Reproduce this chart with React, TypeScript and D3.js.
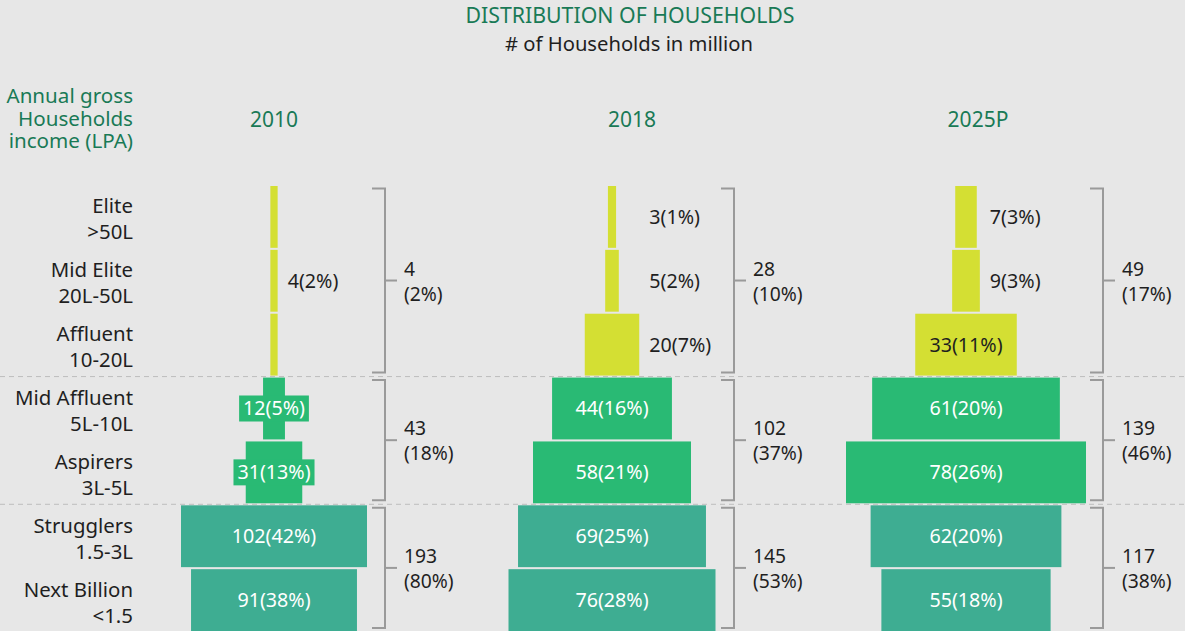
import React from "react";
import * as d3 from "d3";

// ---------- DATA ----------
const categories = ["Elite", "Mid Elite", "Affluent", "Mid Affluent", "Aspirers", "Strugglers", "Next Billion"];
const incomeRanges = [">50L", "20L-50L", "10-20L", "5L-10L", "3L-5L", "1.5-3L", "<1.5"];
const segmentOf = [0, 0, 0, 1, 1, 2, 2]; // segment index for each category
const years = ["2010", "2018", "2025P"];

// 2010: Elite, Mid Elite and Affluent are reported as one combined value
const households2010 = [4, 12, 31, 102, 91];
const share2010 = [2, 5, 13, 42, 38];
const rowSpan2010 = [3, 1, 1, 1, 1];

const households2018 = [3, 5, 20, 44, 58, 69, 76];
const share2018 = [1, 2, 7, 16, 21, 25, 28];
const rowSpan2018 = [1, 1, 1, 1, 1, 1, 1];

const households2025 = [7, 9, 33, 61, 78, 62, 55];
const share2025 = [3, 3, 11, 20, 26, 20, 18];
const rowSpan2025 = [1, 1, 1, 1, 1, 1, 1];

const segmentTotals2010 = [4, 43, 193];
const segmentShare2010 = [2, 18, 80];
const segmentTotals2018 = [28, 102, 145];
const segmentShare2018 = [10, 37, 53];
const segmentTotals2025 = [49, 139, 117];
const segmentShare2025 = [17, 46, 38];

const headerLines = ["Annual gross", "Households", "income (LPA)"];

// ---------- LAYOUT / STYLE ----------
const W = 1185;
const H = 631;
const FONT = "'Noto Sans', 'Open Sans', sans-serif";
const BG = "#e7e7e7";
const DARK_GREEN = "#197a56";
const TEXT = "#1f1f1f";
const SEG_COLORS = ["#d4df33", "#29ba74", "#3ead92"];
const LABEL_COLORS = ["#1f1f1f", "#ffffff", "#ffffff"];
const BRACKET = "#9a9a9a";
const LABEL_SIZE = 19.7;

const columns = [
  { values: households2010, shares: share2010, spans: rowSpan2010, totals: segmentTotals2010, tShares: segmentShare2010, center: 274, header: 274, bracket: 385, maxW: 186, maxV: 102 },
  { values: households2018, shares: share2018, spans: rowSpan2018, totals: segmentTotals2018, tShares: segmentShare2018, center: 612, header: 632, bracket: 734, maxW: 207, maxV: 76 },
  { values: households2025, shares: share2025, spans: rowSpan2025, totals: segmentTotals2025, tShares: segmentShare2025, center: 966, header: 978, bracket: 1103, maxW: 240, maxV: 78 },
];

const y = d3.scaleBand<string>().domain(categories).range([186, 631]).paddingInner(0.032).paddingOuter(0);

function measure(text: string, size: number) {
  // rough width estimate for Noto Sans digits/punctuation
  let w = 0;
  for (const ch of text) {
    if (/[0-9]/.test(ch)) w += 0.572;
    else if (ch === "%") w += 0.82;
    else if (ch === "(" || ch === ")") w += 0.3;
    else w += 0.55;
  }
  return w * size;
}

export default function App() {
  const rowH = y.bandwidth();
  const step = y.step();
  const gap = step - rowH;

  // segment extents
  const segRows = [0, 1, 2].map((s) => categories.filter((_, i) => segmentOf[i] === s));
  const segTop = segRows.map((r) => y(r[0])!);
  const segBottom = segRows.map((r) => y(r[r.length - 1])! + rowH);

  const separators = [1, 2].map((s) => segTop[s] - gap / 2);

  return (
    <svg width={W} height={H} style={{ position: "absolute", left: 0, top: 0, display: "block", background: BG }} fontFamily={FONT}>
      <rect x={0} y={0} width={W} height={H} fill={BG} />
      {/* Title */}
      <text x={630} y={23} textAnchor="middle" fontSize={21.3} fill={DARK_GREEN}>DISTRIBUTION OF HOUSEHOLDS</text>
      <text x={629} y={51} textAnchor="middle" fontSize={20.2} fill={TEXT}># of Households in million</text>

      {/* Left header */}
      <text x={133} y={103} textAnchor="end" fontSize={20.6} fill={DARK_GREEN}>
        {headerLines.map((t, i) => (
          <tspan key={t} x={133} dy={i === 0 ? 0 : 22.5}>{t}</tspan>
        ))}
      </text>

      {/* Year headers */}
      {years.map((yr, c) => (
        <text key={yr} x={columns[c].header} y={127} textAnchor="middle" fontSize={21} fill={DARK_GREEN}>{yr}</text>
      ))}

      {/* Row labels */}
      {categories.map((cat, i) => {
        const cy = y(cat)! + rowH / 2;
        return (
          <text key={cat} x={133} y={cy - 3.5} textAnchor="end" fontSize={20.4} fill={TEXT}>
            <tspan x={133}>{cat}</tspan>
            <tspan x={133} dy={26}>{incomeRanges[i]}</tspan>
          </text>
        );
      })}

      {/* Separators */}
      {separators.map((sy, i) => (
        <line key={i} x1={0} x2={W} y1={sy} y2={sy} stroke="#bdbdbd" strokeWidth={1} strokeDasharray="5 4" />
      ))}

      {/* Columns */}
      {columns.map((col, c) => {
        const x = d3.scaleLinear().domain([0, col.maxV]).range([0, col.maxW]);
        let row = 0;
        const entries = col.values.map((v, k) => {
          const e = { v, share: col.shares[k], start: row, span: col.spans[k] };
          row += col.spans[k];
          return e;
        });
        const isOutside = (e: any) => x(e.v) < 70 && segmentOf[e.start] === 0;
        const outsideHalf = d3.max(entries.filter(isOutside), (e: any) => x(e.v) / 2) || 0;
        const outsideX = col.center + outsideHalf + 10;

        return (
          <g key={c}>
            {entries.map((e, k) => {
              const w = x(e.v);
              const seg = segmentOf[e.start];
              const rows = d3.range(e.start, e.start + e.span);
              const labelRow = rows[Math.floor(rows.length / 2)];
              const cy = y(categories[labelRow])! + rowH / 2;
              const label = `${e.v}(${e.share}%)`;
              const outside = isOutside(e);
              const tw = measure(label, LABEL_SIZE);
              const needBox = !outside && w < tw + 8;
              return (
                <g key={k}>
                  {rows.map((r) => (
                    <rect key={r} x={col.center - w / 2} y={y(categories[r])!} width={w} height={rowH} fill={SEG_COLORS[seg]} />
                  ))}
                  {needBox && (
                    <rect x={col.center - tw / 2 - 4} y={cy - 13} width={tw + 8} height={26} fill={SEG_COLORS[seg]} />
                  )}
                  {outside ? (
                    <text x={outsideX} y={cy} dy="0.35em" fontSize={LABEL_SIZE} fill={TEXT}>{label}</text>
                  ) : (
                    <text x={col.center} y={cy} dy="0.35em" textAnchor="middle" fontSize={LABEL_SIZE} fill={LABEL_COLORS[seg]}>{label}</text>
                  )}
                </g>
              );
            })}

            {/* Brackets */}
            {[0, 1, 2].map((s) => {
              const top = segTop[s] + 2.5;
              const bottom = segBottom[s] - 3;
              const mid = (top + bottom) / 2;
              const bx = col.bracket;
              return (
                <g key={s}>
                  <path d={`M${bx - 13},${top}H${bx}V${bottom}H${bx - 13}`} fill="none" stroke={BRACKET} strokeWidth={2} />
                  <line x1={bx} x2={bx + 12} y1={mid} y2={mid} stroke={BRACKET} strokeWidth={2} />
                  <text x={bx + 19} y={mid - 5} fontSize={19.3} fill={TEXT}>
                    <tspan x={bx + 19}>{col.totals[s]}</tspan>
                    <tspan x={bx + 19} dy={25}>{`(${col.tShares[s]}%)`}</tspan>
                  </text>
                </g>
              );
            })}
          </g>
        );
      })}
    </svg>
  );
}
